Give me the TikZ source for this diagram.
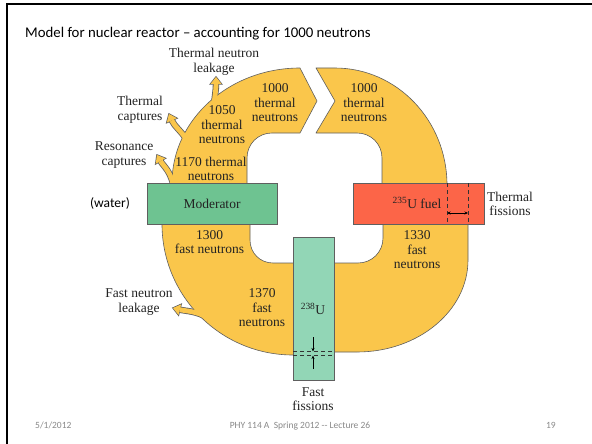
\documentclass[tikz,border=0pt]{standalone}
\usepackage{fontspec}
\setmainfont{Liberation Serif}
\newfontfamily\slidefont{Carlito}
\usetikzlibrary{arrows.meta}
\definecolor{ringY}{RGB}{250,198,75}
\definecolor{modG}{RGB}{110,195,145}
\definecolor{uG}{RGB}{146,214,182}
\definecolor{fuelR}{RGB}{252,101,72}
\definecolor{edgegray}{RGB}{95,95,95}
\definecolor{txt}{RGB}{35,35,35}
\definecolor{footgray}{RGB}{137,137,137}
\newcommand\sidearrows[2]{%
  \draw[#1] (174,190) .. controls (172,172) and (163.5,166.3) .. (160.5,161.1);
  \draw[#1] (187,140) .. controls (181,131) and (174.2,125.9) .. (171.8,120.4);
  \draw[#1] (214,104) .. controls (215,95) and (216,90) .. (216,84);
  \draw[#1] (208,318) .. controls (197,311) and (185.6,311.1) .. (179.8,309.7);
  \path[#2] (157,155) -- (165.3,158.3) -- (155.7,163.8) -- cycle;
  \path[#2] (169,114) -- (176.8,118.2) -- (166.8,122.6) -- cycle;
  \path[#2] (216,77) -- (221.5,84) -- (210.5,84) -- cycle;
  \path[#2] (173,308) -- (181.1,304.4) -- (178.5,315) -- cycle;
}
\begin{document}
\begin{tikzpicture}[x=1pt,y=-1pt,
  ringpart/.style={fill=ringY, draw=edgegray, line width=0.6pt, line join=round},
  lbl/.style={font=\fontsize{13.5}{14.5}\selectfont, text=txt, align=center, inner sep=0pt},
  boxnode/.style={draw=edgegray, line width=0.6pt, inner sep=0pt, font=\fontsize{13.5}{14.5}\selectfont, text=txt},
  shaftout/.style={draw=edgegray, line width=6.4pt},
  shaftin/.style={draw=ringY, line width=4.8pt},
  headout/.style={fill=edgegray, draw=edgegray, line width=1.4pt, line join=miter},
  headin/.style={fill=ringY},
  dimarrow/.style={line width=0.6pt, draw=black, {Stealth[length=3.5pt,width=3pt]}-{Stealth[length=3.5pt,width=3pt]}},
  onearrow/.style={line width=0.6pt, draw=black, -{Stealth[length=3.5pt,width=3pt]}},
  dimline/.style={line width=0.6pt, dash pattern=on 4pt off 3pt, draw=black!80},
  foottext/.style={font=\slidefont\fontsize{9.5}{11}\selectfont, text=footgray, inner sep=0pt}
]
\useasboundingbox (0,0) rectangle (592,444);
\fill[white] (0,0) rectangle (592,444);

% side arrow outlines
\sidearrows{shaftout}{headout}

% ring pieces
\path[ringpart] (172,190) -- (172,183) .. controls (172,119.5) and (229.3,68) .. (300,68)
  -- (317,101) -- (300,133) -- (272,133) .. controls (258,133) and (247,144) .. (247,158)
  -- (247,190) -- cycle;
\path[ringpart] (316,68) -- (335,68) .. controls (396.8,68) and (447,120.4) .. (447,185)
  -- (447,190) -- (382,190) -- (382,158) .. controls (382,144) and (371,133) .. (357,133)
  -- (316,133) -- (335,101) -- cycle;
\path[ringpart] (468,218) -- (468,260) .. controls (468,310.8) and (418.3,352) .. (357,352)
  -- (334,352) -- (293,355) .. controls (220.7,355) and (162,296.3) .. (162,224)
  -- (162,218) -- (250,218) -- (250,240) .. controls (250,253) and (260,263) .. (273,263)
  -- (358,263) .. controls (372,263) and (383,252) .. (383,238) -- (383,218) -- cycle;

% side arrow fills
\sidearrows{shaftin}{headin}

% boxes
\node[boxnode, fill=modG, minimum width=130pt, minimum height=41pt] (mod) at (212,203.5) {Moderator};
\node[boxnode, fill=fuelR, minimum width=131pt, minimum height=41pt] (fuel) at (418.5,203.5) {};
\node[lbl] (fuellbl) at (417,203) {\textsuperscript{235}U fuel};
\node[boxnode, fill=uG, minimum width=41pt, minimum height=143pt] (u238) at (313.5,308.5) {};
\node[lbl] (u238lbl) at (313,309) {\textsuperscript{238}U};

% dashed markers and dimension arrows
\draw[dimline] (447,183) -- (447,224);
\draw[dimline] (468,183) -- (468,224);
\coordinate (fa) at (447,213);
\coordinate (fb) at (468,213);
\draw[dimarrow] (fa) -- (fb);
\draw[dimline] (293,351.5) -- (334,351.5);
\draw[dimline] (293,355.5) -- (334,355.5);
\coordinate (ua) at (313,337);
\coordinate (ub) at (313,351.5);
\coordinate (uc) at (313,369);
\coordinate (ud) at (313,355.5);
\draw[onearrow] (ua) -- (ub);
\draw[onearrow] (uc) -- (ud);

% labels
\node[lbl] (tleak) at (214,62) {Thermal neutron\\leakage};
\node[lbl] (tcap) at (140,110) {Thermal\\captures};
\node[lbl] (rcap) at (124,155) {Resonance\\captures};
\node[lbl] (n1050) at (222,125) {1050\\thermal\\neutrons};
\node[lbl] (n1000a) at (275,103) {1000\\thermal\\neutrons};
\node[lbl] (n1000b) at (364,103) {1000\\thermal\\neutrons};
\node[lbl] (n1170) at (211,169) {1170 thermal\\neutrons};
\node[lbl] (n1300) at (209.5,242) {1300\\fast neutrons};
\node[lbl] (tfis) at (510,204) {Thermal\\fissions};
\node[lbl] (n1330) at (417,250) {1330\\fast\\neutrons};
\node[lbl] (n1370) at (262,308) {1370\\fast\\neutrons};
\node[lbl] (fleak) at (139,302) {Fast neutron\\leakage};
\node[lbl] (ffis) at (313,399) {Fast\\fissions};
\node[font=\slidefont\fontsize{13.5}{15}\selectfont, text=black, inner sep=0pt] (water) at (110,203) {(water)};

% title and footer
\node[anchor=base west, font=\slidefont\fontsize{14.8}{17}\selectfont, text=black, inner sep=0pt] (title) at (25,38)
  {Model for nuclear reactor – accounting for 1000 neutrons};
\node[foottext, anchor=base west] (date) at (35,428) {5/1/2012};
\node[foottext, anchor=base] (course) at (300,428) {PHY 114 A\ \ Spring 2012 -{}- Lecture 26};
\node[foottext, anchor=base east] (page) at (556,428) {19};

% slide frame
\draw[line width=2pt, black] (7,444) -- (7,4.5) -- (592,4.5);
\end{tikzpicture}
\end{document}
